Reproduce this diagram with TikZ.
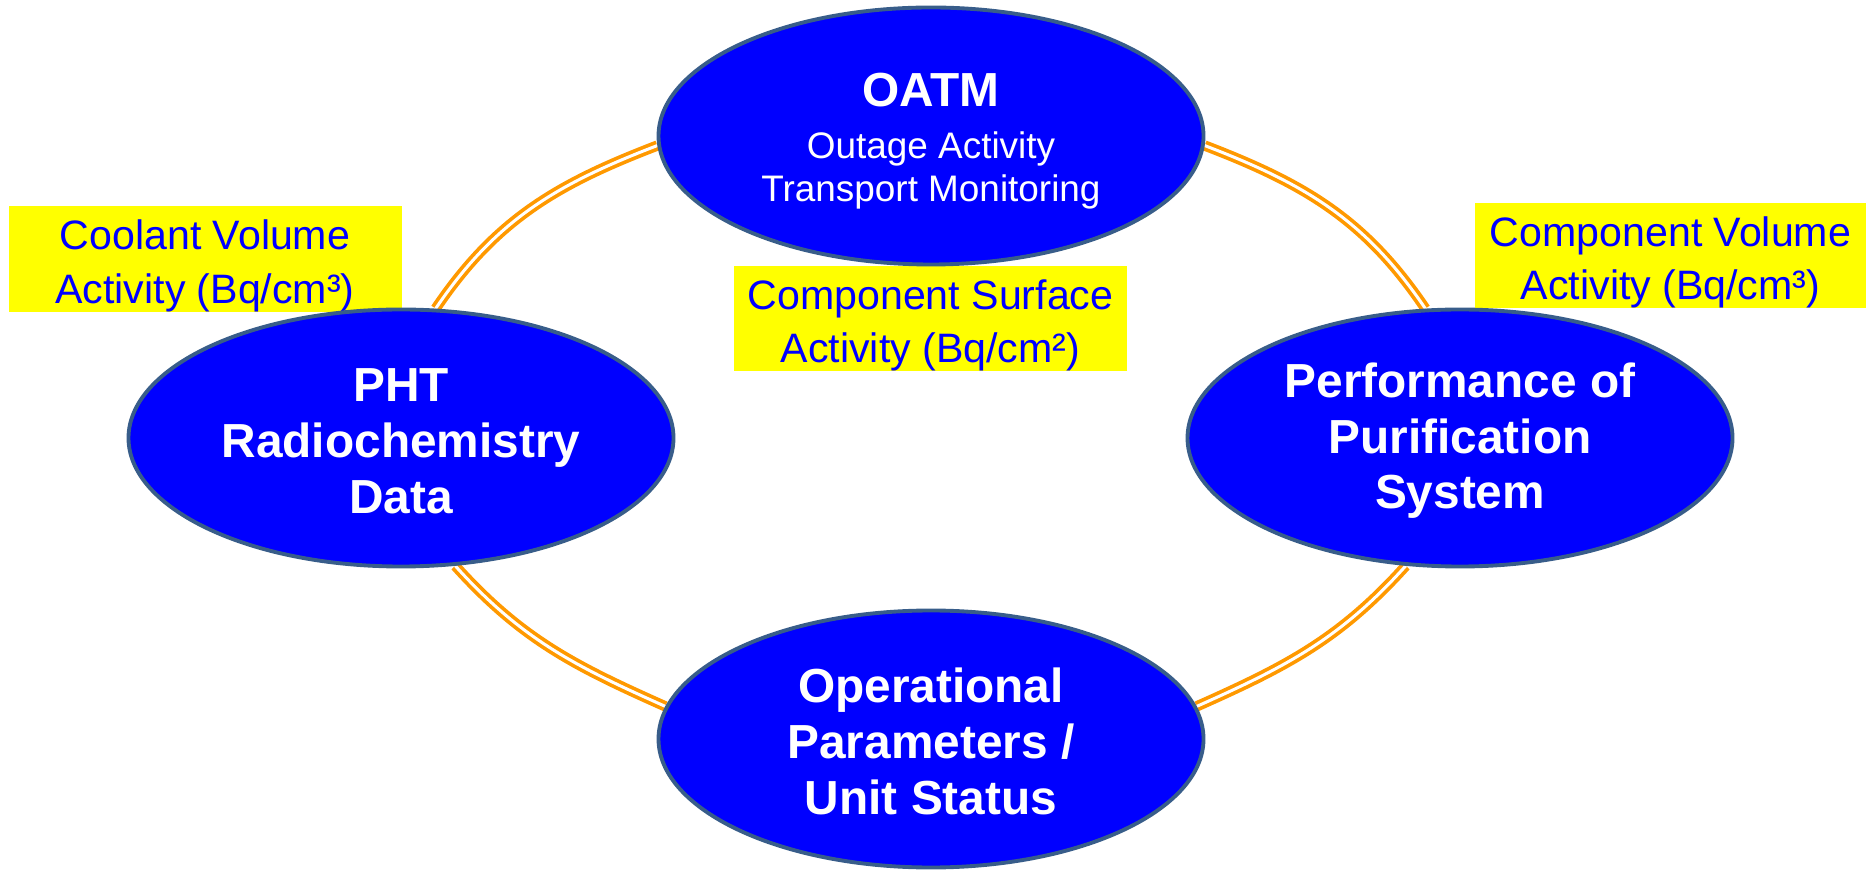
\documentclass[tikz,border=0pt]{standalone}
\usepackage{fontspec}
\setmainfont{Liberation Sans}
\usetikzlibrary{shapes.geometric,backgrounds}

\definecolor{hubblue}{RGB}{0,0,255}
\definecolor{hubedge}{RGB}{56,93,138}
\definecolor{ringorange}{RGB}{255,153,0}
\definecolor{tagyellow}{RGB}{255,255,0}

\newcommand{\tagstrut}{\rule{0pt}{12.3pt}}

\tikzset{
  hub/.style = {ellipse, draw=hubedge, fill=hubblue, line width=1.1pt,
    minimum width=5.45cm, minimum height=2.57cm, inner sep=0pt,
    align=center, text=white, font=\fontsize{13.6}{15.9}\selectfont\bfseries},
  tag/.style = {fill=tagyellow, text=hubblue, minimum width=3.93cm,
    minimum height=1.03cm, inner sep=0pt, align=center,
    font=\fontsize{11.7}{15.2}\selectfont},
  ring/.style = {draw=ringorange, line width=1.05pt, double=white,
    double distance=0.85pt}
}

\begin{document}
\begin{tikzpicture} [scale = 1]
\useasboundingbox (0.0, 0.0) rectangle (18.66, 8.69);
% labels
\node[tag] (coolant) at (2.05, 6.10) {\tagstrut Coolant Volume\\Activity (Bq/cm³)};
\node[tag] (compsurf) at (9.305, 5.505) {\tagstrut Component Surface\\Activity (Bq/cm²)};
\node[tag, minimum width=3.91cm] (compvol) at (16.705, 6.135) {\tagstrut Component Volume\\Activity (Bq/cm³)};
% the four hubs
\node[hub, font=\fontsize{10.5}{12.2}\selectfont] (oatm) at (9.31, 7.33)
  {{\fontsize{13.6}{15.9}\selectfont\bfseries\rule{0pt}{12.5pt}OATM}\\[2.5pt]Outage Activity\\Transport Monitoring};
\node[hub] (pht) at (4.01, 4.31) {\rule{0pt}{11.4pt}PHT\\Radiochemistry\\Data};
\node[hub] (purif) at (14.60, 4.31) {\rule{0pt}{11.4pt}Performance of\\Purification\\System};
\node[hub] (ops) at (9.31, 1.30) {\rule{0pt}{11.4pt}Operational\\Parameters /\\Unit Status};
% ring
\begin{scope}[on background layer]
\draw[ring] (oatm.182) to [out = 201, in = 56] (pht.75);
\draw[ring] (pht.293) to [out = 312, in = 156] (ops.173);
\draw[ring] (oatm.358) to [out = 339, in = 124] (purif.105);
\draw[ring] (purif.247) to [out = 228, in = 24] (ops.7);
\end{scope}
\end{tikzpicture}
\end{document}
